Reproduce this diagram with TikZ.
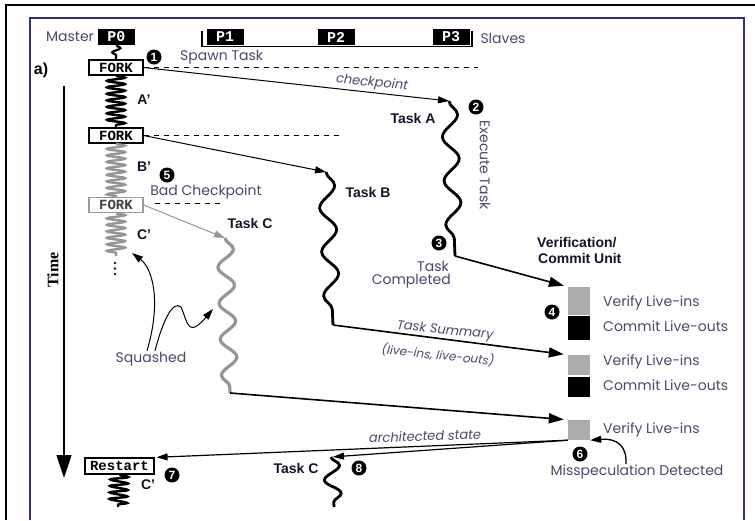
\documentclass[tikz,border=0pt]{standalone}
\usepackage{fontspec}
\setmainfont{Liberation Sans}
\newfontfamily\popf{Poppins}
\newfontfamily\monof{Liberation Mono}
\newfontfamily\seriff{Liberation Serif}
\usetikzlibrary{arrows.meta,decorations.pathmorphing,calc}
\definecolor{txtc}{RGB}{72,72,108}
\definecolor{tgray}{RGB}{150,150,150}
\definecolor{sqgray}{RGB}{172,172,172}
\definecolor{framebl}{RGB}{45,45,150}
\definecolor{bl}{RGB}{20,20,40}
\begin{document}
\begin{tikzpicture}[x=1pt,y=-1pt,
 lab/.style={font=\popf\fontsize{14}{16}\selectfont, text=txtc, inner sep=0pt},
 ilab/.style={font=\popf\itshape\fontsize{13}{15}\selectfont, text=txtc, inner sep=0pt},
 blab/.style={font=\bfseries\fontsize{14}{16}\selectfont, text=bl, inner sep=0pt},
 pbox/.style={fill=black, text=white, font=\monof\bfseries\fontsize{15}{16}\selectfont, minimum width=37pt, minimum height=16pt, inner sep=0pt},
 fbox/.style={draw, fill=white, line width=1.2pt, font=\monof\bfseries\fontsize{14}{15}\selectfont, minimum width=54pt, minimum height=15pt, inner sep=0pt},
 num/.style={circle, fill=black, text=white, font=\bfseries\fontsize{12}{13}\selectfont, minimum size=15pt, inner sep=0pt},
 coilline/.style={decorate, decoration={snake, segment length=6.5pt, amplitude=9pt}, line width=2.4pt},
 waveA/.style={decorate, decoration={snake, segment length=44pt, amplitude=8pt}, line width=2.8pt},
 waveS/.style={decorate, decoration={snake, segment length=28pt, amplitude=8pt}, line width=2.8pt},
 waveC/.style={decorate, decoration={snake, segment length=36pt, amplitude=8pt}, line width=3.2pt, tgray},
 dline/.style={dash pattern=on 5pt off 5pt, line width=1.1pt},
 arr/.style={-{Triangle[length=11pt,width=7pt]}, line width=1pt},
 barr/.style={-{Triangle[length=15pt,width=10pt]}, line width=1.6pt},
 sq/.style={minimum width=22pt, inner sep=0pt}
]
\useasboundingbox (0,0) rectangle (755,520);
% frames
\draw[line width=2pt] (6,520) -- (6,5) -- (755,5);
\draw[framebl, line width=1.2pt] (30,520) -- (30,18) -- (744,18) -- (744,520);

% header
\node[lab] (master) at (70,37) {Master};
\node[pbox] (p0) at (116.5,37) {P0};
\node[pbox] (p1) at (225,37) {P1};
\node[pbox] (p2) at (336,37) {P2};
\node[pbox] (p3) at (451,37) {P3};
\coordinate (brL) at (202,31);
\coordinate (brBL) at (202,46.5);
\coordinate (brBR) at (472,46.5);
\coordinate (brR) at (472,31);
\draw[line width=1.3pt] (brL) -- (brBL) -- (brBR) -- (brR);
\node[lab] (slaves) at (503,38) {Slaves};

\node[font=\bfseries\fontsize{16}{17}\selectfont, inner sep=0pt] (alab) at (41,70) {a)};

% forks
\node[fbox] (f1) at (116,67.5) {FORK};
\node[fbox] (f2) at (116,135.5) {FORK};
\node[fbox, draw=black!40, text=black!75] (f3) at (116,205) {FORK};

% dashed lines
\coordinate (d1) at (478,67.5);
\coordinate (d2) at (343,135.5);
\coordinate (d3s) at (155,203.5);
\coordinate (d3) at (225,203.5);
\draw[dline] (f1.east) -- (d1);
\draw[dline] (f2.east) -- (d2);
\draw[dline] (d3s) -- (d3);

% master thread
\draw[line width=2.2pt, decorate, decoration={snake, segment length=9pt, amplitude=4pt}] (p0.south) -- (f1.north);
\draw[coilline] (f1.south) -- (f2.north);
\draw[coilline, tgray] (f2.south) -- (f3.north);
\coordinate (cend) at (116,256);
\draw[coilline, tgray] (f3.south) -- (cend);
\foreach \yy in {263,268.5,274} \fill[bl] (115,\yy) circle (1.4pt);

% labels on master
\node[blab] (ap) at (144,100) {A’};
\node[blab] (bp) at (144,167) {B’};
\node[blab] (cp) at (144,235) {C’};

% numbers
\node[num] (n1) at (154,57) {1};
\node[num] (n2) at (476,107) {2};
\node[num] (n3) at (439,243) {3};
\node[num] (n4) at (552,312) {4};
\node[num] (n5) at (167,175) {5};
\node[num] (n6) at (580,454) {6};
\node[num] (n7) at (172,475) {7};
\node[num] (n8) at (359,468) {8};

\node[lab, anchor=west] (spawn) at (180,57) {Spawn Task};
\node[lab] (badck) at (206,192) {Bad Checkpoint};

% tasks
\coordinate (taS) at (449,101);
\coordinate (taE) at (455,256);
\draw[waveA] (taS) -- (taE);
\coordinate (tbS) at (326,172);
\coordinate (tbE) at (333,325);
\draw[waveA] (tbS) -- (tbE);
\coordinate (tcS) at (225,238);
\coordinate (tcE) at (230,393);
\draw[waveC] (tcS) -- (tcE);

\node[blab] (tal) at (413,118) {Task A};
\node[blab] (tbl) at (368,192) {Task B};
\node[blab] (tcl) at (250,223) {Task C};

\draw[arr] (f1.east) -- (taS);
\draw[arr] (f2.east) -- (tbS);
\draw[arr, tgray] (f3.east) -- (tcS);
\node[ilab, rotate=-6] (ckp) at (372,83) {checkpoint};

\node[lab, rotate=-90] (exec) at (485,165) {Execute Task};
\node[lab, anchor=east] (tcomp1) at (449,266) {Task};
\node[lab, anchor=east] (tcomp2) at (451,281) {Completed};

% verification unit
\node[font=\bfseries\fontsize{14}{15}\selectfont, text=bl, anchor=west, inner sep=0pt] (ver1) at (537,243) {Verification/};
\node[font=\bfseries\fontsize{14}{15}\selectfont, text=bl, anchor=west, inner sep=0pt] (ver2) at (538,258) {Commit Unit};

\node[sq, fill=sqgray, minimum height=28pt] (v1) at (579,301) {};
\node[sq, fill=black, minimum height=24pt] (c1) at (579,328) {};
\node[sq, fill=sqgray, minimum height=20pt] (v2) at (579,365) {};
\node[sq, fill=black, minimum height=20pt] (c2) at (579,387) {};
\node[sq, fill=sqgray, minimum height=20pt] (v3) at (579,430) {};

\node[lab, anchor=west] (vl1) at (603,303) {Verify Live-ins};
\node[lab, anchor=west] (cl1) at (603,326) {Commit Live-outs};
\node[lab, anchor=west] (vl2) at (603,362) {Verify Live-ins};
\node[lab, anchor=west] (cl2) at (603,385) {Commit Live-outs};
\node[lab, anchor=west] (vl3) at (603,430) {Verify Live-ins};

\draw[barr, shorten >=4pt] (taE) -- (v1.north west);
\draw[barr, shorten >=4pt] (tbE) -- (v2.north west);
\draw[barr, shorten >=4pt] (tcE) -- (v3.north west);
\node[ilab, rotate=-6] (tsum) at (445,331) {Task Summary};
\node[ilab, rotate=-6, font=\popf\itshape\fontsize{12}{14}\selectfont] (tsum2) at (438,355) {(live-ins, live-outs)};

% misspeculation
\node[lab] (missp) at (637,472) {Misspeculation Detected};
\coordinate (mst) at (626,464);
\draw[arr, line width=1.3pt] (mst) .. controls (627,446) and (617,438) .. (v3.south east);

% restart
\node[fbox, minimum width=69pt, minimum height=16pt] (rs) at (119.5,466) {Restart};
\coordinate (c2end) at (118,507);
\draw[coilline] (rs.south) -- (c2end);
\node[blab] (cp2) at (148,485) {C’};

\coordinate (tc2S) at (331,457);
\coordinate (tc2E) at (334,507);
\draw[waveS] (tc2S) -- (tc2E);
\node[blab] (tc2l) at (296,468) {Task C};

\draw[arr, line width=1.2pt, shorten >=2pt] (v3.south west) -- (rs.north east);
\draw[arr, line width=1.2pt, shorten >=2pt] (v3.south west) -- (tc2S);
\node[ilab, rotate=2] (arch) at (425,436) {architected state};

% squashed
\node[lab] (squ) at (151,359) {Squashed};
\coordinate (sqt1) at (132,253);
\coordinate (sqt2) at (213,309);
\draw[arr] ($(squ.north)+(-4,-1)$) .. controls (162,300) and (152,268) .. (sqt1);
\draw[arr] ($(squ.north)+(4,-1)$) .. controls (163,320) and (173,300) .. (181,307) .. controls (186,318) and (187,330) .. (195,327) .. controls (202,323) and (207,316) .. (sqt2);

% time
\node[font=\seriff\bfseries\fontsize{16}{17}\selectfont, rotate=90, inner sep=0pt] (time) at (53,270) {Time};
\coordinate (tt) at (64,86);
\coordinate (tb) at (64,478);
\draw[line width=1.3pt, -{Triangle[length=23pt,width=15pt]}] (tt) -- (tb);
\end{tikzpicture}
\end{document}
